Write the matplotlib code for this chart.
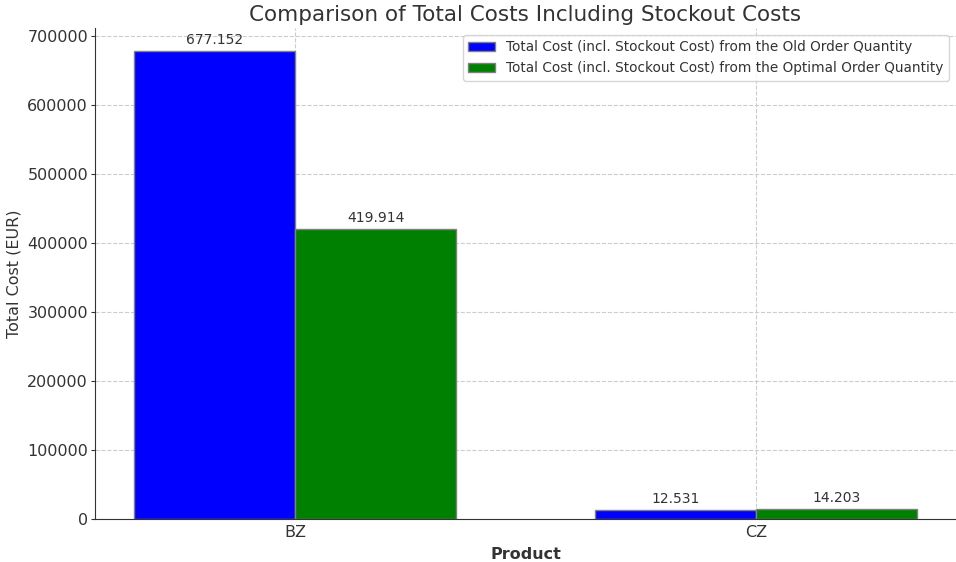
import matplotlib
matplotlib.use("Agg")
import matplotlib.pyplot as plt
import numpy as np

products = ["BZ", "CZ"]
old_cost = [677152, 12531]
optimal_cost = [419914, 14203]
label_old = "Total Cost (incl. Stockout Cost) from the Old Order Quantity"
label_opt = "Total Cost (incl. Stockout Cost) from the Optimal Order Quantity"

def fmt(v):
    return f"{v:,}".replace(",", ".")

txt = "#333333"
plt.rcParams["text.color"] = txt
plt.rcParams["axes.labelcolor"] = txt
plt.rcParams["xtick.color"] = txt
plt.rcParams["ytick.color"] = txt

fig = plt.figure(figsize=(9.56, 5.62), dpi=100)
ax = fig.add_axes([0.0994, 0.0765, 0.9006, 0.8735])

x = np.arange(len(products))
w = 0.35
b1 = ax.bar(x - w/2, old_cost, w, color="blue", edgecolor="grey", label=label_old)
b2 = ax.bar(x + w/2, optimal_cost, w, color="green", edgecolor="grey", label=label_opt)

for bars, vals in ((b1, old_cost), (b2, optimal_cost)):
    for r, v in zip(bars, vals):
        ax.annotate(fmt(v), (r.get_x() + r.get_width()/2, r.get_height()),
                    xytext=(0, 3), textcoords="offset points",
                    ha="center", va="bottom", fontsize=10)

ax.set_xticks(x)
ax.set_xticklabels(products, fontsize=11.5)
ax.tick_params(axis="y", labelsize=11.5, length=3, pad=2)
ax.tick_params(axis="x", length=0, pad=4)
ax.set_xlabel("Product", fontsize=11.5, fontweight="bold", labelpad=5)
ax.set_ylabel("Total Cost (EUR)", fontsize=11.5, labelpad=4)
ax.set_title("Comparison of Total Costs Including Stockout Costs", fontsize=15.5, pad=5)
ax.grid(True, linestyle="--", color="#cccccc", linewidth=0.8)
ax.set_axisbelow(True)
for s in ("top", "right"):
    ax.spines[s].set_visible(False)
for s in ("left", "bottom"):
    ax.spines[s].set_color("#333333")
ax.legend(loc="upper right", fontsize=9.8, bbox_to_anchor=(1.0, 1.0))

fig.savefig("out.png", dpi=100)
